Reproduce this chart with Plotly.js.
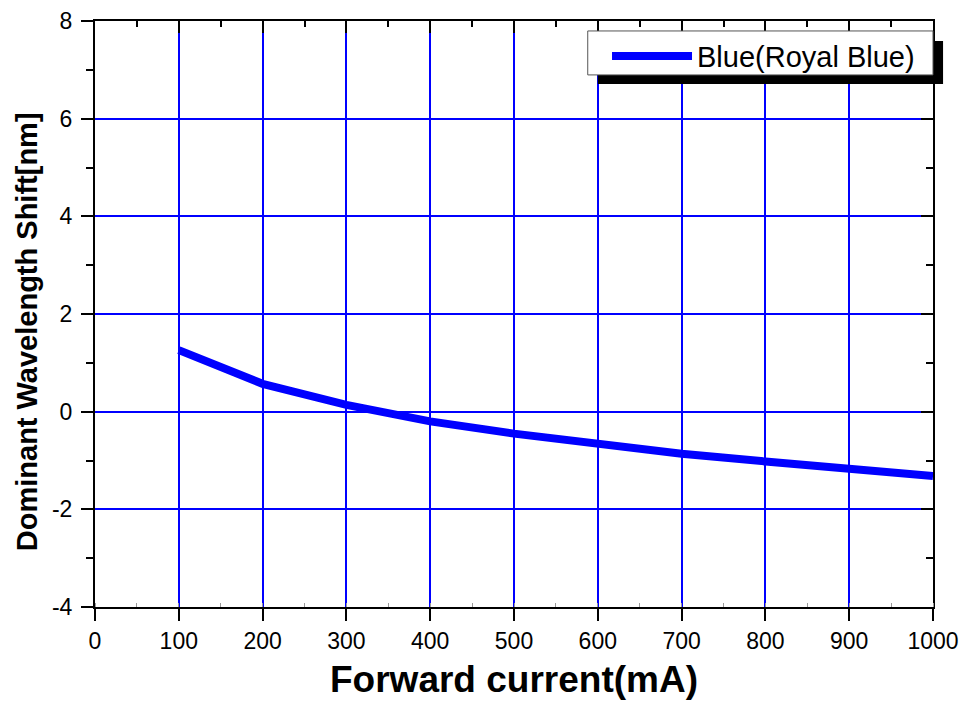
<!DOCTYPE html>
<html>
<head>
<meta charset="utf-8">
<script src="https://cdn.plot.ly/plotly-3.0.1.min.js"></script>
<style>html,body{margin:0;padding:0;background:#fff;}#chart{width:967px;height:711px;}</style>
</head>
<body>
<div id="chart"></div>
<script>
const seriesName = "Blue(Royal Blue)";
const forwardCurrent = [100, 200, 300, 400, 500, 600, 700, 800, 900, 1000];
const wavelengthShift = [1.26, 0.57, 0.14, -0.2, -0.45, -0.66, -0.86, -1.02, -1.17, -1.32];
const xTickVals = [0, 100, 200, 300, 400, 500, 600, 700, 800, 900, 1000];
const xTickLabels = ["0", "100", "200", "300", "400", "500", "600", "700", "800", "900", "1000"];
const yTickVals = [-4, -2, 0, 2, 4, 6, 8];
const yTickLabels = ["-4", "-2", "0", "2", "4", "6", "8"];
const xTitle = "Forward current(mA)";
const yTitle = "Dominant Wavelength Shift[nm]";

const FONT = "Liberation Sans, Arial, sans-serif";
const blue = "#0000ff";

const traces = [
  {
    x: forwardCurrent, y: wavelengthShift, name: seriesName,
    type: "scatter", mode: "lines",
    line: {color: blue, width: 8, shape: "linear"},
    hoverinfo: "x+y"
  },
  {
    x: forwardCurrent, y: wavelengthShift, xaxis: "x2", yaxis: "y2",
    type: "scatter", mode: "lines", line: {width: 0, color: "rgba(0,0,0,0)"},
    showlegend: false, hoverinfo: "skip"
  }
];

const layout = {
  width: 967, height: 711,
  margin: {l: 95, r: 34, t: 21, b: 104},
  paper_bgcolor: "#fff", plot_bgcolor: "#fff",
  font: {family: FONT, color: "#000"},
  showlegend: true,
  legend: {
    x: 0.611, y: 0.940, xanchor: "left", yanchor: "middle",
    bgcolor: "rgba(0,0,0,0)", borderwidth: 0,
    font: {family: FONT, size: 29, color: "#000"},
    itemwidth: 80
  },
  xaxis: {
    range: [0, 1000], tickmode: "array", tickvals: xTickVals, ticktext: xTickLabels,
    showline: true, linecolor: "#000", linewidth: 2,
    ticks: "outside", ticklen: 12, tickwidth: 2, tickcolor: "#000",
    showgrid: true, gridcolor: blue, gridwidth: 2,
    zeroline: false,
    minor: {dtick: 50, ticks: "inside", ticklen: 4, tickwidth: 1, tickcolor: "#999", showgrid: false},
    tickfont: {family: FONT, size: 23, color: "#000"},
    title: {text: xTitle, font: {family: FONT, size: 37, color: "#000", weight: "bold"}, standoff: 14}
  },
  yaxis: {
    range: [-4, 8], tickmode: "array", tickvals: yTickVals, ticktext: yTickLabels,
    showline: true, linecolor: "#000", linewidth: 2,
    ticks: "outside", ticklen: 12, tickwidth: 2, tickcolor: "#000",
    showgrid: true, gridcolor: blue, gridwidth: 2,
    zeroline: false,
    minor: {tickvals: [-3, -1, 1, 3, 5, 7], ticks: "outside", ticklen: 7, tickwidth: 2, tickcolor: "#000", showgrid: false},
    tickfont: {family: FONT, size: 23, color: "#000"},
    ticklabelstandoff: 4
  },
  xaxis2: {
    overlaying: "x", side: "top", anchor: "y2", range: [0, 1000], tick0: 0, dtick: 100,
    showline: true, linecolor: "#000", linewidth: 2,
    ticks: "inside", ticklen: 12, tickwidth: 2, tickcolor: "#000",
    minor: {dtick: 50, ticks: "inside", ticklen: 6, tickwidth: 2, tickcolor: "#000"},
    showticklabels: false, showgrid: false, zeroline: false
  },
  yaxis2: {
    overlaying: "y", side: "right", anchor: "x2", range: [-4, 8], tick0: -4, dtick: 2,
    showline: true, linecolor: "#000", linewidth: 2,
    ticks: "inside", ticklen: 12, tickwidth: 2, tickcolor: "#000",
    minor: {dtick: 1, ticks: "inside", ticklen: 7, tickwidth: 2, tickcolor: "#000"},
    showticklabels: false, showgrid: false, zeroline: false
  },
  annotations: [
    {text: yTitle, xref: "paper", yref: "paper", x: -0.0811, y: 0.469,
     xanchor: "center", yanchor: "middle", textangle: -90, showarrow: false,
     font: {family: FONT, size: 29, color: "#000", weight: "bold"}}
  ],
  shapes: [
    {type: "rect", xref: "paper", yref: "paper", x0: 0.6, x1: 1.012, y0: 0.8925, y1: 0.966,
     fillcolor: "#000", line: {width: 0}, layer: "above"},
    {type: "rect", xref: "paper", yref: "paper", x0: 0.588, x1: 1.0, y0: 0.908, y1: 0.983,
     fillcolor: "#fff", line: {width: 1, color: "#555"}, layer: "above"}
  ]
};

Plotly.newPlot("chart", traces, layout, {displayModeBar: false, staticPlot: true});
</script>
</body>
</html>
